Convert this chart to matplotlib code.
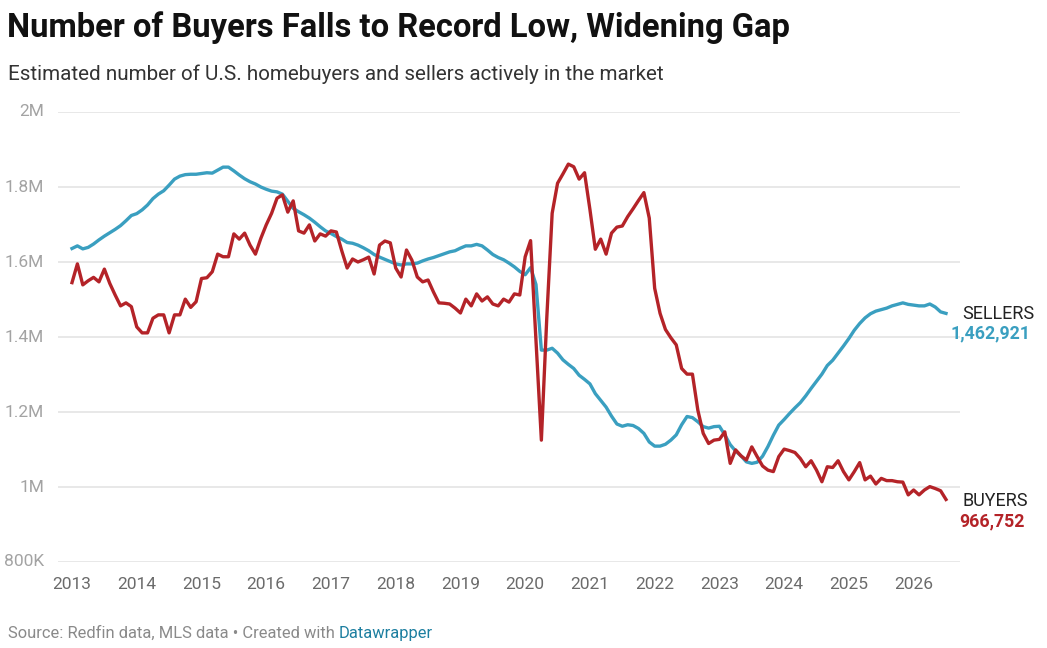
import matplotlib
matplotlib.use("Agg")
import matplotlib.pyplot as plt
import numpy as np
from matplotlib.ticker import FuncFormatter

plt.rcParams['font.family'] = ['Roboto', 'DejaVu Sans']

# monthly estimates, Jan 2013 .. Jul 2026, in thousands
start_year = 2013
buyers = [
    1545, 1595, 1539, 1550, 1559, 1547, 1581, 1543, 1512, 1483,
    1491, 1481, 1427, 1411, 1411, 1450, 1459, 1459, 1411, 1459,
    1459, 1501, 1479, 1494, 1556, 1558, 1574, 1621, 1614, 1614,
    1675, 1661, 1677, 1645, 1621, 1663, 1699, 1730, 1770, 1779,
    1733, 1763, 1683, 1677, 1699, 1656, 1675, 1669, 1683, 1680,
    1630, 1584, 1608, 1600, 1606, 1613, 1568, 1645, 1656, 1651,
    1584, 1560, 1632, 1605, 1560, 1547, 1552, 1520, 1491, 1490,
    1488, 1477, 1464, 1501, 1483, 1515, 1496, 1507, 1488, 1483,
    1501, 1493, 1515, 1512, 1614, 1657, 1390, 1125, 1450, 1730,
    1810, 1835, 1861, 1854, 1821, 1838, 1740, 1634, 1661, 1621,
    1677, 1693, 1696, 1721, 1742, 1764, 1785, 1717, 1530, 1463,
    1420, 1398, 1379, 1316, 1301, 1301, 1205, 1143, 1116, 1125,
    1127, 1147, 1063, 1099, 1083, 1072, 1107, 1081, 1056, 1045,
    1041, 1081, 1101, 1097, 1092, 1076, 1054, 1070, 1045, 1014,
    1054, 1052, 1070, 1041, 1019, 1041, 1065, 1019, 1029, 1008,
    1023, 1017, 1017, 1014, 1013, 979, 992, 979, 992, 1001,
    996, 990, 966.752,
]
sellers = [
    1636, 1643, 1635, 1639, 1648, 1659, 1669, 1678, 1687, 1697,
    1710, 1724, 1729, 1739, 1752, 1769, 1781, 1790, 1805, 1821,
    1829, 1833, 1834, 1834, 1836, 1838, 1837, 1845, 1853, 1853,
    1843, 1832, 1822, 1814, 1808, 1800, 1794, 1789, 1787, 1781,
    1762, 1743, 1734, 1726, 1717, 1706, 1694, 1683, 1676, 1668,
    1661, 1652, 1650, 1645, 1638, 1630, 1620, 1613, 1607, 1601,
    1595, 1592, 1595, 1595, 1597, 1603, 1608, 1612, 1617, 1622,
    1627, 1630, 1637, 1643, 1643, 1647, 1643, 1632, 1620, 1612,
    1606, 1597, 1587, 1575, 1566, 1585, 1540, 1365, 1365, 1370,
    1357, 1339, 1327, 1316, 1298, 1287, 1275, 1249, 1231, 1213,
    1189, 1168, 1162, 1166, 1164, 1156, 1143, 1120, 1109, 1109,
    1114, 1125, 1139, 1166, 1188, 1185, 1174, 1161, 1157, 1161,
    1162, 1139, 1113, 1096, 1083, 1067, 1063, 1066, 1082, 1108,
    1138, 1165, 1180, 1196, 1211, 1225, 1243, 1263, 1282, 1301,
    1324, 1338, 1357, 1376, 1396, 1418, 1436, 1451, 1462, 1469,
    1473, 1477, 1483, 1487, 1491, 1487, 1485, 1483, 1483, 1488,
    1480, 1467, 1462.921,
]
year_ticks = list(range(2013, 2027))
y_ticks = [800, 1000, 1200, 1400, 1600, 1800, 2000]

BLUE = '#3a9fc0'
RED = '#b42328'

W, H = 1047, 648
fig = plt.figure(figsize=(W / 100, H / 100), dpi=100)

# plot area: gridlines run from x=58 to x=960, 2M at y=112, 800K at y=562
ax = fig.add_axes([58 / W, (H - 562) / H, 902 / W, 450 / H])

x = start_year + np.arange(len(buyers)) / 12
ax.plot(x, sellers, color=BLUE, lw=2.4, solid_joinstyle='round', zorder=3)
ax.plot(x, buyers, color=RED, lw=2.4, solid_joinstyle='round', zorder=4)

px_per_month = (946 - 72) / (len(buyers) - 1)
ax.set_xlim(start_year - (72 - 58) / px_per_month / 12,
            start_year + (960 - 72) / px_per_month / 12)
ax.set_ylim(800, 2000)

ax.set_yticks(y_ticks)
ax.yaxis.set_major_formatter(FuncFormatter(
    lambda v, p: f'{v / 1000:g}M' if v >= 1000 else f'{v:g}K'))
ax.set_xticks(year_ticks)
ax.set_xticklabels([str(y) for y in year_ticks])
ax.grid(axis='y', color='#e2e2e2', lw=1.1)
ax.set_axisbelow(True)
for s in ax.spines.values():
    s.set_visible(False)
ax.tick_params(axis='y', length=0, pad=10, labelsize=12.5, labelcolor='#a3a3a3')
ax.tick_params(axis='x', length=0, pad=11, labelsize=12.5, labelcolor='#6b6b6b')
for lab in ax.get_yticklabels():
    lab.set_verticalalignment('center')


def ftext(px, py, s, **kw):
    return fig.text(px / W, 1 - py / H, s, va='baseline', **kw)


ftext(7, 37, 'Number of Buyers Falls to Record Low, Widening Gap',
      fontsize=23.6, fontweight='bold', color='#111111')
ftext(8, 80, 'Estimated number of U.S. homebuyers and sellers actively in the market',
      fontsize=14.9, color='#333333')

# end labels
ftext(962, 319, 'SELLERS', fontsize=13, color='#222222')
ftext(950, 338, f'{sellers[-1] * 1000:,.0f}', fontsize=12.8,
      fontweight='bold', color=BLUE)
ftext(962, 506, 'BUYERS', fontsize=13, color='#222222')
ftext(959, 526, f'{buyers[-1] * 1000:,.0f}', fontsize=12.8,
      fontweight='bold', color=RED)

# footer
src = ftext(8, 638, 'Source: Redfin data, MLS data \u2022 Created with ',
            fontsize=11.9, color='#8a8a8a')
fig.canvas.draw()
bb = src.get_window_extent(renderer=fig.canvas.get_renderer())
fig.text(bb.x1 / W, 1 - 638 / H, 'Datawrapper', va='baseline',
         fontsize=11.9, color='#1d7fa0')

fig.savefig('out.png', dpi=100)
